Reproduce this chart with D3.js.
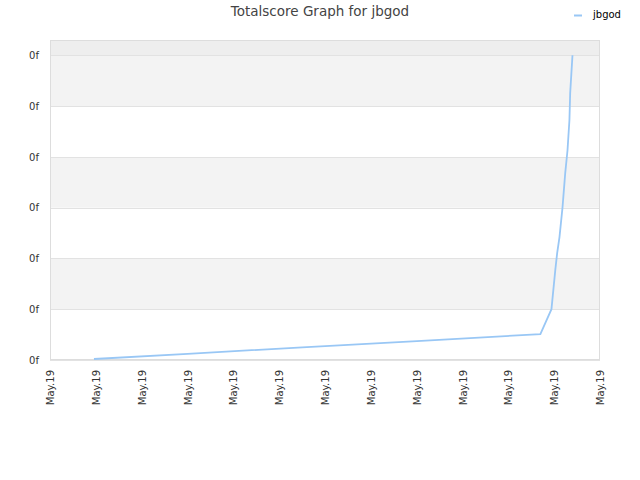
<!DOCTYPE html>
<html><head><meta charset="utf-8">
<script src="https://cdn.jsdelivr.net/npm/d3@7"></script>
<style>body{margin:0;background:#fff}svg{display:block;font-family:"DejaVu Sans",sans-serif}</style>
</head><body><svg id="c" width="640" height="480"></svg>
<script>
const title = "Totalscore Graph for jbgod";
const seriesName = "jbgod";
const times = ["01:55","06:00","11:00","16:00","21:23","21:52","22:02","22:07","22:13","22:21","22:28","22:34","22:39","22:41","22:47"];
const scores = [0.02,0.12,0.25,0.37,0.51,1.00,1.77,2.11,2.42,3.01,3.68,4.13,4.72,5.26,6.00];
const yTicks = [0,1,2,3,4,5,6];
const yTickLabel = "0f";
const xTickFormat = "%b.%d";
const xTickCount = 13;

const svg = d3.select("#c");
const L=50,R=600,T=40,B=360;
const parse = d3.timeParse("%Y-%m-%d %H:%M");
const pts = times.map((t,i)=>({d:parse("2019-05-19 "+t), v:scores[i]}));
const t0 = parse("2019-05-19 00:00"), t1 = parse("2019-05-19 23:59");
const x = d3.scaleTime().domain([t0, t1]).range([L,R]);
const y = d3.scaleLinear().domain([0,6.3]).range([B,T]);
const xTickVals = d3.range(xTickCount).map(i=> new Date(+t0 + i*(t1-t0)/(xTickCount-1)));

// background bands
svg.append("rect").attr("x",L).attr("y",T).attr("width",R-L).attr("height",y(6)-T).attr("fill","#eeeeee");
yTicks.slice(0,-1).forEach((t,i)=>{
  svg.append("rect").attr("x",L).attr("y",y(t+1)).attr("width",R-L).attr("height",y(t)-y(t+1))
    .attr("fill", (i%2===1)?"#f3f3f3":"#ffffff");
});
// grid
svg.append("g").selectAll("line").data(yTicks).join("line")
  .attr("x1",L).attr("x2",R).attr("y1",d=>Math.round(y(d))+0.5).attr("y2",d=>Math.round(y(d))+0.5)
  .attr("stroke","#e2e2e2");
// border
svg.append("rect").attr("x",L+0.5).attr("y",T+0.5).attr("width",R-L-1).attr("height",B-T-1)
  .attr("fill","none").attr("stroke","#dddddd");

// y axis labels
const ya = svg.append("g").attr("transform",`translate(${L},0)`)
  .call(d3.axisLeft(y).tickValues(yTicks).tickFormat(()=>yTickLabel).tickSize(0).tickPadding(11));
ya.select(".domain").remove();
ya.selectAll("text").attr("fill","#333").style("font-size","10px").attr("font-family","DejaVu Sans");

// x axis
const xa = svg.append("g").attr("transform",`translate(0,${B})`)
  .call(d3.axisBottom(x).tickValues(xTickVals).tickFormat(d3.timeFormat(xTickFormat)).tickSize(0));
xa.select(".domain").remove();
xa.selectAll("text").attr("fill","#333").style("font-size","10px").attr("font-family","DejaVu Sans")
  .attr("text-anchor","end").attr("transform","rotate(-90)").attr("x",-10).attr("y",0).attr("dy","0.35em");

// line
svg.append("path").datum(pts)
  .attr("d", d3.line().x(d=>x(d.d)).y(d=>y(d.v)))
  .attr("fill","none").attr("stroke","#99c7f5").attr("stroke-width",1.8);

// title
svg.append("text").attr("x",320).attr("y",16).attr("text-anchor","middle")
  .attr("fill","#444").style("font-size","13.5px").text(title);
// legend
svg.append("line").attr("x1",574).attr("x2",582).attr("y1",15.5).attr("y2",15.5).attr("stroke","#99c7f5").attr("stroke-width",2);
svg.append("text").attr("x",593).attr("y",18).attr("fill","#000").style("font-size","10px").text(seriesName);
</script></body></html>
